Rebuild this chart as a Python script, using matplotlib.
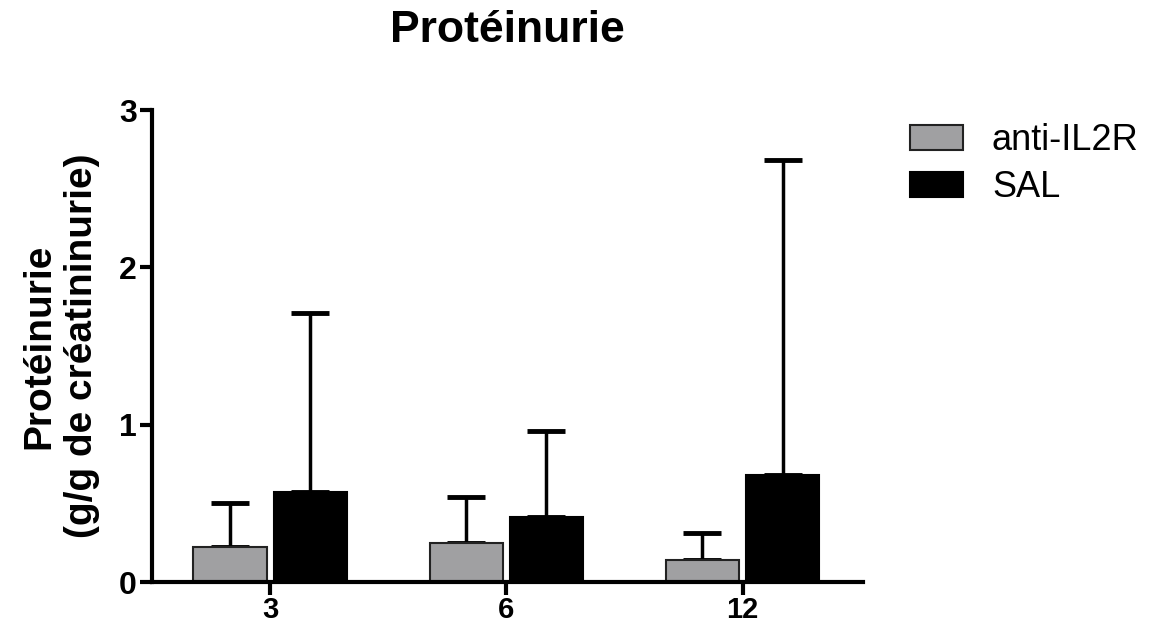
import numpy as np
import matplotlib
matplotlib.use("Agg")
import matplotlib.pyplot as plt

# values
months = ['3', '6', '12']
anti_il2r = [0.22, 0.25, 0.14]
anti_il2r_err = [0.28, 0.29, 0.17]
sal = [0.57, 0.41, 0.68]
sal_err = [1.14, 0.55, 2.00]

plt.rcParams['font.family'] = ['Liberation Sans', 'DejaVu Sans']

W, H = 1155, 632
fig = plt.figure(figsize=(W / 100, H / 100), dpi=100)
ax = fig.add_axes([152 / W, 1 - 582 / H, 711 / W, 472 / H])

x = np.arange(len(months))
w = 0.31
off = 0.17

ax.bar(x - off, anti_il2r, w, color='#a0a0a2', edgecolor='#222222', linewidth=1.5,
       label='anti-IL2R', zorder=2)
ax.bar(x + off, sal, w, color='black', edgecolor='black', linewidth=1.5,
       label='SAL', zorder=2)

# upper error bars only
ax.errorbar(x - off, anti_il2r, yerr=[np.zeros(3), anti_il2r_err], fmt='none',
            ecolor='black', elinewidth=2.5, capsize=14, capthick=3.5, zorder=1)
ax.errorbar(x + off, sal, yerr=[np.zeros(3), sal_err], fmt='none',
            ecolor='black', elinewidth=2.5, capsize=14, capthick=3.5, zorder=1)

ax.set_xlim(-0.5, 2.51)
ax.set_ylim(0, 3)
ax.set_yticks([0, 1, 2, 3])
ax.set_xticks(x)
ax.set_xticklabels(months)

for s in ['top', 'right']:
    ax.spines[s].set_visible(False)
for s in ['left', 'bottom']:
    ax.spines[s].set_linewidth(3)
ax.spines['left'].set_bounds(0, 3)

ax.tick_params(axis='both', width=3)
ax.tick_params(axis='x', length=9, pad=1, labelsize=21)
ax.tick_params(axis='y', length=9, pad=2, labelsize=23)
for lab in ax.get_xticklabels() + ax.get_yticklabels():
    lab.set_fontweight('bold')

ax.set_ylabel('Protéinurie\n(g/g de créatininurie)', fontsize=28, fontweight='bold',
              linespacing=1.25, va='center')
ax.yaxis.set_label_coords(-0.128, 0.5)

fig.text((152 + 711 / 2) / W, 1 - 31 / H, 'Protéinurie', ha='center', va='center',
         fontsize=32, fontweight='bold')

ax.legend(loc='upper left', bbox_to_anchor=(910 / W, 1 - 123 / H),
          bbox_transform=fig.transFigure, frameon=False, fontsize=26,
          borderpad=0, borderaxespad=0,
          handlelength=1.47, handleheight=0.69, handletextpad=0.8, labelspacing=0.34)

fig.savefig('out.png', dpi=100)
